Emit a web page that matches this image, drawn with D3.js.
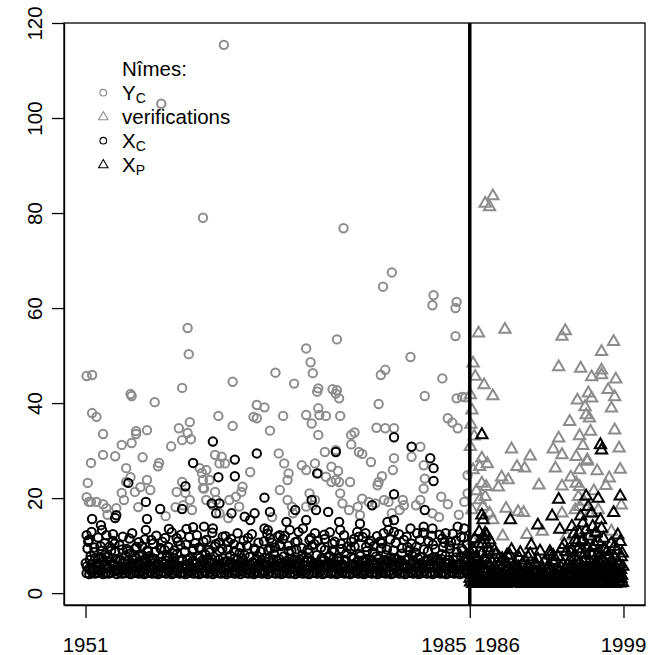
<!DOCTYPE html>
<html><head><meta charset="utf-8">
<script src="https://cdn.jsdelivr.net/npm/d3@7"></script>
<style>body{margin:0;background:#fff}svg{display:block}text{font-family:"Liberation Sans",Arial,Helvetica,sans-serif}</style>
</head><body><svg id="c" width="660" height="655"></svg>
<script>
// ---------- data ----------
const yTicks = [0, 20, 40, 60, 80, 100, 120];
const xTickAt = [1951, 1986, 1986, 2000];
const xTickLabels = ["1951", "1985", "1986", "1999"];
const splitYear = 1986;
const legendTitle = "Nîmes:";
const legendNames = [["Y", "C"], ["verifications", ""], ["X", "C"], ["X", "P"]];

// Y_C (grey circles), 1951-1985: [year, value]
const ycData = [
[1963.6,115.4],[1957.9,103],[1961.7,79],[1974.5,76.8],[1978.9,67.5],[1978.1,64.5],[1982.7,62.7],[1982.6,60.6],[1984.8,61.3],[1984.7,60],[1984.7,54.1],
[1960.3,55.8],[1960.4,50.3],[1951.1,45.7],[1951.6,45.9],[1959.8,43.2],[1955.1,41.9],[1955.2,41.5],[1957.3,40.2],[1951.6,37.9],[1952.0,37.1],[1952.6,33.5],
[1960.5,36],[1959.5,34.7],[1960.3,33.7],[1960.6,32.4],[1955.6,34.1],[1955.6,33.5],[1956.6,34.3],[1955.2,31.6],[1954.3,31.2],[1958.8,30.9],[1959.8,32.2],
[1952.6,29.1],[1953.7,28.8],[1951.5,27.4],[1956.2,28.6],[1957.7,27.4],[1957.6,26.7],[1954.7,26.3],[1955.1,24.4],[1954.7,23.4],[1955.5,21.3],[1954.3,21.1],
[1956.6,23.8],[1956.9,21.7],[1956.0,22.3],[1951.2,23.2],[1951.1,20.2],[1951.3,19.2],[1951.5,19.2],[1952.0,19.2],[1952.6,18.7],[1952.9,17.9],[1954.5,19.6],
[1953.8,17.9],[1955.8,18.1],[1959.3,21.3],[1959.8,23.4],[1960.1,21.1],[1960.5,19.6],[1959.2,18.1],[1959.9,18.5],[1960.7,17.5],[1961.6,25.3],[1961.7,22.1],
[1971.1,51.5],[1973.9,53.4],[1971.5,48.6],[1971.7,46.3],[1968.3,46.4],[1970.0,44.1],[1964.4,44.5],[1972.2,43.1],[1972.1,42.4],[1973.5,42.9],[1973.8,42],
[1966.6,39.6],[1967.3,39.1],[1966.3,37.1],[1966.6,36.8],[1963.1,37.3],[1964.4,35.2],[1967.8,34.2],[1969.0,37.3],[1971.1,37.5],[1971.6,35.7],[1972.2,38.9],
[1972.3,37.5],[1972.9,37.3],[1972.2,33.3],[1972.8,29.7],[1973.8,30.1],[1968.6,29.4],[1969.1,27.3],[1969.5,25.2],[1969.4,23.8],[1968.7,21.7],[1970.7,26.9],
[1971.1,25.9],[1971.9,27.3],[1972.2,25.2],[1972.9,24.5],[1973.4,23.4],[1973.8,23.8],[1961.4,26.3],[1962.0,25.9],[1961.7,23.8],[1962.3,23.8],[1961.8,22],
[1962.8,21.3],[1962.9,19.6],[1962.8,29.1],[1963.4,28.7],[1963.2,27.3],[1963.7,27.3],[1966.0,25.5],[1965.3,22.4],[1965.2,21.3],[1964.7,20.3],[1964.1,19.6],
[1965.0,18.2],[1969.4,19.6],[1969.8,18.2],[1969.9,16.8],[1971.4,21],[1971.9,19.6],[1971.7,18.5],[1971.1,18.2],[1962.6,18.5],[1963.2,16.8],[1962.0,19.6],[1973.4,26.6],
[1980.6,49.7],[1977.9,45.9],[1978.3,47],[1983.5,45.2],[1981.9,41.5],[1984.8,41],[1985.3,41.3],[1985.6,41.2],[1977.7,39.8],[1973.9,42.7],[1974.1,41],
[1974.2,37.3],[1984.0,36.8],[1984.4,35.9],[1984.9,34.7],[1977.5,34.8],[1978.3,34.7],[1979.1,34.7],[1975.5,33.8],[1975.2,33.3],[1975.2,31.3],[1975.9,29.7],
[1976.2,29.3],[1981.5,30.8],[1977.0,27.6],[1979.1,28.4],[1979.0,25.9],[1980.7,28.7],[1981.8,26.9],[1981.9,24.1],[1981.8,22],[1974.0,25.7],[1974.1,23.4],
[1974.2,21],[1975.1,23.4],[1977.7,23.4],[1977.6,22.7],[1978.0,24.6],[1978.2,19.6],[1978.6,19.2],[1979.9,19.6],[1980.0,18.5],[1981.1,18.5],[1981.5,19.6],
[1983.4,20.3],[1984.0,18.7],[1985.5,19.2],[1985.8,21],[1985.8,24.8],[1974.4,18.9],[1975.0,17.5],[1975.8,18.2],[1976.2,19.9],[1976.8,19.2],[1977.4,18.9],
[1978.9,16.8],[1979.6,17.5],[1982.6,16.8],[1953.0,16.5],[1958.3,16.2],[1964.0,15.8],[1968.0,16.0],[1976.0,16.4],[1983.2,16.0],[1985.0,16.5]
];

// X_C (black circles), 1951-1985: [year, value]
const xcData = [
[1960.8,27.4],[1954.9,23.2],[1960.1,22.5],[1956.5,19.2],[1957.8,17.7],[1959.8,17.7],[1953.8,16.4],[1953.7,15.8],[1951.6,15.6],[1956.6,15.6],[1956.5,13.3],
[1952.4,14.3],[1952.5,13.3],[1952.9,12.2],[1951.1,12.2],[1951.3,11.2],[1958.6,13.5],[1960.2,13.5],[1960.8,13.9],
[1962.6,31.9],[1966.6,29.4],[1964.6,28.1],[1963.1,24.4],[1964.6,24.6],[1972.1,25.2],[1973.8,29.7],[1967.3,20.1],[1971.6,19.6],[1972.0,17.5],[1973.1,17.1],
[1970.1,17.5],[1962.5,18.9],[1963.2,18.9],[1962.9,16.8],[1964.3,16.8],[1965.5,16.1],[1966.0,15.4],[1966.4,16.8],[1967.8,17.1],[1967.3,13.6],[1967.6,13.3],
[1967.8,11.5],[1961.8,14],[1962.6,13.6],[1963.5,11.9],[1969.3,15],[1969.6,13.3],[1968.7,12.2],[1971.1,15.4],[1970.8,13.6],[1971.4,11.2],[1971.9,12.6],
[1979.1,32.8],[1980.7,30.8],[1982.4,28.4],[1982.7,26.3],[1982.7,23.6],[1979.1,20.8],[1977.1,18.5],[1981.9,17.5],[1974.1,15],[1974.2,13.3],[1978.5,15],
[1979.1,15.4],[1978.6,13.3],[1979.1,12.9],[1975.9,11.9],[1976.5,12.6],[1975.2,10.8],[1980.6,13.6],[1981.2,12.6],[1981.8,14],[1982.6,13.6],[1984.9,14],[1985.5,13.6],
[1953.5,11.0],[1955.0,11.5],[1957.0,11.2],[1958.0,10.8],[1959.3,11.6],[1961.0,10.5],[1962.0,11.2],[1964.0,10.8],[1965.8,11.6],[1968.0,10.6],[1969.0,11.4],
[1970.3,10.9],[1972.8,11.4],[1973.5,10.4],[1977.0,11.0],[1978.0,10.5],[1980.0,11.2],[1983.5,11.5],[1984.3,10.7],[1985.2,11.8],[1976.0,14.6],[1983.8,12.6],
[1951.25,10.8],[1951.55,12.9],[1951.8,9.6],[1952.15,11.7],[1952.45,8.9],[1952.75,10.5],[1953.2,9.8],[1953.5,12.4],[1953.7,8.8],
[1954.1,10.1],[1954.4,11.9],[1954.75,9.3],[1955.25,12.6],[1955.55,9.4],[1955.85,10.7],[1956.15,9.9],[1956.4,11.3],[1956.7,8.7],
[1957.15,10.4],[1957.45,12.1],[1957.9,9.2],[1958.25,11.6],[1958.55,9.7],[1958.85,12.8],[1959.1,9.0],[1959.4,10.9],[1959.7,12.3],
[1960.15,10.2],[1960.45,11.8],[1960.75,8.9],[1961.15,12.2],[1961.45,9.5],[1961.75,10.8],[1962.25,9.1],[1962.55,12.7],[1962.85,10.3],
[1963.15,10.6],[1963.45,9.3],[1963.75,12.0],[1964.25,11.4],[1964.55,8.8],[1964.85,12.6],[1965.1,9.7],[1965.4,11.1],[1965.7,10.0],
[1966.15,12.4],[1966.45,9.1],[1966.75,10.6],[1967.25,10.9],[1967.55,12.5],[1967.85,9.4],[1968.25,9.6],[1968.5,11.9],[1968.7,10.2],
[1969.15,12.1],[1969.45,10.0],[1969.75,8.9],[1970.1,10.7],[1970.4,12.9],[1970.7,9.5],[1971.25,9.2],[1971.55,11.6],[1971.85,10.3],
[1972.15,11.0],[1972.45,9.6],[1972.75,12.3],[1973.25,12.8],[1973.45,9.0],[1973.7,10.8],[1974.25,10.4],[1974.55,12.2],[1974.85,9.8],
[1975.15,9.3],[1975.45,11.4],[1975.75,12.9],[1976.25,11.8],[1976.55,9.7],[1976.85,10.5],[1977.25,9.9],[1977.55,12.0],[1977.85,10.9],
[1978.15,12.6],[1978.45,9.2],[1978.75,11.3],[1979.25,10.6],[1979.55,12.4],[1979.85,9.5],[1980.25,11.9],[1980.5,9.0],[1980.7,10.4],
[1981.15,9.8],[1981.45,11.2],[1981.75,12.7],[1982.25,10.9],[1982.55,12.1],[1982.85,9.3],[1983.25,12.3],[1983.55,9.7],[1983.7,10.6],
[1984.15,10.0],[1984.45,12.5],[1984.75,11.1],[1985.25,9.4],[1985.45,11.7],[1985.75,10.2],
[1951.02,6.3],[1951.18,9.4],[1951.31,5.1],[1951.47,7.8],[1951.62,4.8],[1951.79,8.6],[1951.93,6.0],
[1952.05,5.4],[1952.2,7.2],[1952.36,9.9],[1952.5,4.9],[1952.66,6.7],[1952.81,8.1],[1952.95,5.7],
[1953.03,7.6],[1953.17,5.2],[1953.33,8.9],[1953.48,6.1],[1953.64,10.4],[1953.8,4.7],[1953.92,7.1],
[1954.06,4.9],[1954.21,6.9],[1954.35,9.2],[1954.52,5.6],[1954.67,7.9],[1954.83,8.8],[1954.96,5.0],
[1955.04,8.3],[1955.19,5.7],[1955.34,7.0],[1955.5,4.6],[1955.65,9.7],[1955.81,6.4],[1955.94,7.7],
[1956.02,5.9],[1956.18,8.0],[1956.32,4.8],[1956.49,7.3],[1956.63,9.0],[1956.78,5.3],[1956.92,6.8],
[1957.07,7.4],[1957.22,5.0],[1957.37,8.7],[1957.51,6.2],[1957.68,4.7],[1957.82,9.5],[1957.97,6.6],
[1958.05,5.5],[1958.2,9.1],[1958.34,6.8],[1958.49,4.9],[1958.64,7.5],[1958.8,5.9],[1958.93,8.4],
[1959.03,6.5],[1959.18,4.8],[1959.33,8.2],[1959.47,5.6],[1959.62,10.1],[1959.78,7.0],[1959.95,5.2],
[1960.06,8.8],[1960.21,6.0],[1960.37,4.7],[1960.51,7.4],[1960.66,5.4],[1960.82,9.3],[1960.96,6.3],
[1961.04,5.0],[1961.2,7.7],[1961.35,9.6],[1961.5,5.8],[1961.65,6.9],[1961.8,4.6],[1961.94,8.1],
[1962.02,7.1],[1962.17,5.3],[1962.33,8.6],[1962.48,6.4],[1962.63,4.9],[1962.78,9.8],[1962.92,5.7],
[1963.06,6.0],[1963.21,8.9],[1963.36,5.1],[1963.52,7.3],[1963.67,6.6],[1963.83,4.8],[1963.97,9.2],
[1964.04,5.6],[1964.19,7.9],[1964.34,6.2],[1964.5,10.3],[1964.64,4.7],[1964.8,7.0],[1964.95,5.4],
[1965.03,8.4],[1965.18,5.0],[1965.33,6.8],[1965.48,8.0],[1965.63,5.7],[1965.79,4.9],[1965.93,7.6],
[1966.07,4.8],[1966.22,6.5],[1966.37,9.4],[1966.52,5.5],[1966.66,7.8],[1966.81,6.1],[1966.96,8.7],
[1967.05,6.9],[1967.19,4.7],[1967.35,7.5],[1967.5,5.9],[1967.65,9.0],[1967.8,5.2],[1967.94,6.4],
[1968.02,5.3],[1968.17,8.3],[1968.32,6.0],[1968.47,4.8],[1968.62,7.2],[1968.78,9.9],[1968.92,5.8],
[1969.06,7.7],[1969.21,5.5],[1969.36,4.9],[1969.51,8.8],[1969.66,6.3],[1969.82,5.1],[1969.96,7.0],
[1970.04,6.1],[1970.19,9.2],[1970.34,5.4],[1970.49,7.1],[1970.64,4.7],[1970.79,8.1],[1970.94,6.6],
[1971.03,4.9],[1971.18,6.8],[1971.33,8.5],[1971.48,5.6],[1971.63,10.0],[1971.78,6.2],[1971.92,5.0],
[1972.07,8.0],[1972.22,5.8],[1972.37,4.8],[1972.52,7.4],[1972.66,6.0],[1972.81,9.1],[1972.95,5.3],
[1973.05,5.6],[1973.2,7.9],[1973.35,6.4],[1973.5,4.6],[1973.65,8.7],[1973.8,5.5],[1973.94,7.3],
[1974.02,6.7],[1974.17,4.9],[1974.32,9.3],[1974.47,5.7],[1974.62,7.0],[1974.77,8.4],[1974.92,5.1],
[1975.06,5.2],[1975.21,7.6],[1975.36,6.1],[1975.51,9.8],[1975.66,4.8],[1975.81,6.9],[1975.96,8.2],
[1976.04,7.8],[1976.19,5.4],[1976.34,4.7],[1976.49,6.6],[1976.64,8.9],[1976.79,5.9],[1976.93,7.1],
[1977.03,5.0],[1977.18,8.6],[1977.33,6.3],[1977.48,7.7],[1977.63,5.3],[1977.78,4.9],[1977.93,9.5],
[1978.07,6.0],[1978.22,5.1],[1978.37,8.0],[1978.52,6.8],[1978.67,4.7],[1978.82,7.5],[1978.96,5.6],
[1979.05,9.0],[1979.2,5.7],[1979.35,7.2],[1979.5,4.9],[1979.65,6.5],[1979.8,8.3],[1979.94,5.2],
[1980.02,5.5],[1980.17,7.0],[1980.32,9.7],[1980.47,5.0],[1980.62,6.2],[1980.77,7.9],[1980.92,4.8],
[1981.06,8.5],[1981.21,6.1],[1981.36,4.7],[1981.51,7.6],[1981.66,5.4],[1981.81,9.2],[1981.95,6.8],
[1982.04,5.8],[1982.19,8.8],[1982.34,5.2],[1982.49,6.9],[1982.64,10.2],[1982.79,5.6],[1982.93,7.4],
[1983.03,7.1],[1983.18,4.8],[1983.33,6.4],[1983.48,8.2],[1983.63,5.5],[1983.78,7.8],[1983.93,5.0],
[1984.07,6.2],[1984.22,9.4],[1984.37,5.3],[1984.52,7.0],[1984.67,4.9],[1984.82,8.6],[1984.96,6.0],
[1985.05,5.4],[1985.2,7.7],[1985.35,9.0],[1985.5,5.9],[1985.65,6.7],[1985.8,4.8],[1985.94,8.0],
[1951.12,5.6],[1951.4,7.0],[1951.55,6.1],[1951.72,5.2],[1951.88,7.4],
[1952.12,6.3],[1952.28,5.0],[1952.44,7.6],[1952.72,5.9],[1952.9,6.8],
[1953.1,5.4],[1953.25,6.6],[1953.55,5.8],[1953.72,7.2],[1953.86,5.1],
[1954.14,7.1],[1954.3,5.3],[1954.45,6.4],[1954.6,5.0],[1954.9,6.9],
[1955.12,5.9],[1955.27,6.3],[1955.43,5.2],[1955.58,7.5],[1955.74,5.5],
[1956.1,6.8],[1956.25,5.6],[1956.41,6.2],[1956.56,5.1],[1956.85,7.8],
[1957.14,5.3],[1957.3,7.2],[1957.45,5.9],[1957.6,6.6],[1957.75,5.4],
[1958.12,6.1],[1958.27,5.2],[1958.42,7.7],[1958.57,5.7],[1958.72,6.4],
[1959.1,7.3],[1959.25,6.0],[1959.4,5.1],[1959.55,6.9],[1959.87,5.8],
[1960.13,5.2],[1960.29,7.0],[1960.44,6.2],[1960.58,5.5],[1960.74,6.7],
[1961.11,6.4],[1961.27,5.5],[1961.42,7.4],[1961.57,5.2],[1961.87,6.0],
[1962.09,5.7],[1962.25,6.9],[1962.4,5.3],[1962.55,7.1],[1962.7,6.2],
[1963.13,7.0],[1963.28,5.9],[1963.44,6.3],[1963.6,5.1],[1963.9,6.7],
[1964.11,5.3],[1964.26,6.5],[1964.42,5.8],[1964.57,7.3],[1964.72,5.6],
[1965.1,6.6],[1965.25,7.4],[1965.4,5.4],[1965.56,6.1],[1965.86,5.2],
[1966.14,5.9],[1966.3,5.2],[1966.45,6.8],[1966.59,7.1],[1966.74,5.5],
[1967.12,6.2],[1967.27,5.8],[1967.43,6.6],[1967.57,5.1],[1967.72,7.3],
[1968.09,7.1],[1968.24,5.5],[1968.4,6.9],[1968.55,5.8],[1968.85,6.4],
[1969.13,5.2],[1969.29,6.7],[1969.44,5.9],[1969.59,7.2],[1969.74,5.4],
[1970.11,6.9],[1970.26,5.6],[1970.42,6.3],[1970.57,5.1],[1970.87,7.4],
[1971.1,5.8],[1971.25,7.3],[1971.4,5.3],[1971.56,6.6],[1971.71,5.7],
[1972.14,6.4],[1972.3,5.2],[1972.44,6.9],[1972.59,5.5],[1972.74,7.0],
[1973.12,5.3],[1973.27,6.2],[1973.42,5.8],[1973.57,7.2],[1973.87,6.0],
[1974.09,7.4],[1974.24,5.7],[1974.4,6.1],[1974.55,5.2],[1974.7,6.8],
[1975.13,6.0],[1975.28,5.4],[1975.44,7.3],[1975.59,5.9],[1975.89,5.1],
[1976.11,5.5],[1976.26,6.9],[1976.42,5.8],[1976.57,7.1],[1976.72,5.2],
[1977.1,6.8],[1977.25,5.3],[1977.4,5.9],[1977.56,6.4],[1977.71,7.2],
[1978.14,5.7],[1978.29,7.0],[1978.45,5.4],[1978.6,6.2],[1978.89,6.5],
[1979.12,7.2],[1979.27,5.1],[1979.42,6.3],[1979.57,5.8],[1979.73,6.9],
[1980.09,6.1],[1980.24,5.5],[1980.4,7.1],[1980.55,5.3],[1980.85,6.7],
[1981.13,5.4],[1981.28,7.3],[1981.43,5.9],[1981.59,6.4],[1981.74,5.2],
[1982.11,6.7],[1982.27,5.4],[1982.42,6.1],[1982.57,7.4],[1982.72,5.8],
[1983.1,5.2],[1983.25,6.6],[1983.4,7.2],[1983.56,5.7],[1983.86,6.3],
[1984.14,7.0],[1984.3,5.6],[1984.45,6.2],[1984.6,5.3],[1984.75,7.5],
[1985.12,6.3],[1985.27,5.1],[1985.43,6.8],[1985.58,7.1],[1985.73,5.5],
[1951.1,4.2],[1951.35,4.0],[1951.6,4.4],[1951.85,4.1],[1952.1,4.3],[1952.35,4.5],[1952.6,4.0],[1952.85,4.2],
[1953.1,4.1],[1953.35,4.3],[1953.6,4.6],[1953.85,4.0],[1954.1,4.4],[1954.35,4.1],[1954.6,4.2],[1954.85,4.5],
[1955.1,4.0],[1955.35,4.2],[1955.6,4.3],[1955.85,4.1],[1956.1,4.5],[1956.35,4.0],[1956.6,4.2],[1956.85,4.4],
[1957.1,4.1],[1957.35,4.3],[1957.6,4.0],[1957.85,4.2],[1958.1,4.4],[1958.35,4.1],[1958.6,4.5],[1958.85,4.0],
[1959.1,4.2],[1959.35,4.4],[1959.6,4.1],[1959.85,4.3],[1960.1,4.0],[1960.35,4.2],[1960.6,4.5],[1960.85,4.1],
[1961.1,4.3],[1961.35,4.0],[1961.6,4.2],[1961.85,4.4],[1962.1,4.1],[1962.35,4.3],[1962.6,4.0],[1962.85,4.5],
[1963.1,4.2],[1963.35,4.1],[1963.6,4.4],[1963.85,4.0],[1964.1,4.3],[1964.35,4.2],[1964.6,4.1],[1964.85,4.4],
[1965.1,4.0],[1965.35,4.5],[1965.6,4.2],[1965.85,4.1],[1966.1,4.3],[1966.35,4.0],[1966.6,4.4],[1966.85,4.2],
[1967.1,4.1],[1967.35,4.3],[1967.6,4.0],[1967.85,4.5],[1968.1,4.2],[1968.35,4.1],[1968.6,4.3],[1968.85,4.0],
[1969.1,4.4],[1969.35,4.2],[1969.6,4.1],[1969.85,4.3],[1970.1,4.0],[1970.35,4.5],[1970.6,4.2],[1970.85,4.1],
[1971.1,4.3],[1971.35,4.0],[1971.6,4.2],[1971.85,4.4],[1972.1,4.1],[1972.35,4.3],[1972.6,4.0],[1972.85,4.2],
[1973.1,4.5],[1973.35,4.1],[1973.6,4.3],[1973.85,4.0],[1974.1,4.2],[1974.35,4.4],[1974.6,4.1],[1974.85,4.3],
[1975.1,4.0],[1975.35,4.2],[1975.6,4.5],[1975.85,4.1],[1976.1,4.3],[1976.35,4.0],[1976.6,4.2],[1976.85,4.4],
[1977.1,4.1],[1977.35,4.3],[1977.6,4.0],[1977.85,4.2],[1978.1,4.4],[1978.35,4.1],[1978.6,4.3],[1978.85,4.0],
[1979.1,4.2],[1979.35,4.5],[1979.6,4.1],[1979.85,4.3],[1980.1,4.0],[1980.35,4.2],[1980.6,4.4],[1980.85,4.1],
[1981.1,4.3],[1981.35,4.0],[1981.6,4.2],[1981.85,4.5],[1982.1,4.1],[1982.35,4.3],[1982.6,4.0],[1982.85,4.2],
[1983.1,4.4],[1983.35,4.1],[1983.6,4.3],[1983.85,4.0],[1984.1,4.2],[1984.35,4.4],[1984.6,4.1],[1984.85,4.3],
[1985.1,4.0],[1985.35,4.2],[1985.6,4.5],[1985.85,4.1]
];

// verifications (grey triangles), 1986-1999: [year, value]
const verifData = [
[1988.1,83.6],[1987.4,82],[1987.8,81.3],[1986.8,54.7],[1989.2,55.5],[1994.7,55.2],[1994.4,54],[1999.1,52.9],[1998.0,50.8],[1986.3,48.4],[1994.1,47.6],
[1996.1,47.3],[1998.0,46.9],[1997.1,45.5],[1998.0,45.9],[1987.3,43.8],[1988.1,41.5],[1986.05,41.7],[1986.2,38.5],[1995.8,40.6],[1996.8,42.1],[1997.1,41],
[1996.5,39.2],[1999.2,41.3],[1996.6,37.5],[1996.9,36.8],[1995.1,36.1],[1999.2,34.3],[1994.1,32.6],[1996.0,33.1],[1997.0,34],[1986.05,30.8],[1989.8,30.3],
[1991.5,28.8],[1993.6,30.3],[1994.4,29.1],[1995.7,28.7],[1996.7,28],[1999.6,30.5],[1987.1,28.4],[1986.9,26.6],[1986.3,25.9],[1990.3,26.6],[1991.0,26.3],
[1993.8,26.3],[1996.0,25.9],[1996.7,27.7],[1999.7,26],[1989.5,23.8],[1988.6,22.3],[1987.1,23.1],[1987.5,22.4],[1992.3,22.7],[1994.4,22.5],[1995.7,23.1],
[1996.0,22.4],[1987.4,20.3],[1986.9,19.6],[1987.2,18.2],[1987.8,16.8],[1988.1,15.4],[1989.3,17.8],[1990.4,17.1],[1990.9,16.9],[1994.4,16.8],[1995.6,17.5],
[1996.0,18.2],[1996.9,16.8],[1997.7,17.5],[1999.8,18.5],[1986.1,35.5],[1986.4,33],[1986.6,21.5],[1986.2,17.5],[1995.9,20.3],[1996.4,19.3],[1997.3,21.5],
[1998.4,22.6],[1998.7,24.2],[1995.2,24.4],[1996.3,31.0],[1997.6,25.7],[1998.9,38.9],[1999.3,45],[1998.6,42.8],[1986.5,45.6],[1987.6,27.2],[1988.9,24.4],
[1992.6,13.0],[1991.2,12.3],[1986.3,11.0],[1989.0,12.0],[1994.8,12.0],[1998.9,13.0]
];

// X_P (black triangles), 1986-1999: [year, value]
const xpData = [
[1987.1,33.3],[1997.9,31.2],[1998.0,30.1],[1994.1,19.7],[1996.6,20.4],[1997.7,19.9],[1999.7,20.4],[1987.1,16.4],[1987.2,15.4],[1989.7,15.4],[1992.2,14.3],
[1993.5,16.2],[1994.2,13.4],[1995.3,14],[1996.1,16.2],[1996.8,18.2],[1997.1,16.8],[1997.9,15.4],[1999.1,16.9],[1987.4,12.6],[1987.8,11.2],[1989.8,9.1],
[1991.6,10.1],[1993.3,8.7],[1994.4,9.4],[1995.6,11.2],[1996.0,12.6],[1996.6,13.3],[1997.5,12.6],[1997.7,10.8],[1998.3,9.1],[1999.7,10.8],[1999.8,7.6],
[1998.0,13.6],[1997.2,14],[1996.3,14.7],
[1986.15,8.2],[1986.45,11.4],[1986.65,7.0],[1986.85,12.9],[1987.15,10.3],[1987.35,7.5],[1987.55,12.2],[1987.75,8.6],[1988.25,9.0],[1988.7,7.4],
[1989.4,8.0],[1990.6,8.5],[1991.3,7.6],[1992.4,8.8],[1993.6,7.9],[1994.6,10.2],[1995.18,8.6],[1995.48,12.4],[1995.88,9.3],[1996.18,10.8],
[1996.48,8.3],[1996.88,12.0],[1997.18,9.6],[1997.48,12.8],[1997.88,8.1],[1998.18,11.5],[1998.48,8.7],[1998.88,10.4],[1999.18,9.8],[1999.48,12.2],[1999.88,8.4],
[1986.03,3.1],[1986.12,6.8],[1986.22,4.4],[1986.31,9.2],[1986.41,5.6],[1986.5,3.5],[1986.6,7.7],[1986.7,4.9],[1986.8,10.4],[1986.9,6.1],
[1987.0,3.8],[1987.1,8.3],[1987.2,5.2],[1987.3,11.8],[1987.4,4.1],[1987.5,7.0],[1987.6,3.3],[1987.7,9.5],[1987.8,5.8],[1987.9,4.6],
[1988.05,6.4],[1988.2,3.6],[1988.35,8.1],[1988.5,4.7],[1988.65,5.9],[1988.8,3.2],[1988.95,7.2],
[1989.05,4.3],[1989.2,6.6],[1989.35,3.4],[1989.5,5.1],[1989.65,7.9],[1989.8,3.9],[1989.95,5.6],
[1990.05,3.5],[1990.2,5.8],[1990.35,4.2],[1990.5,7.4],[1990.65,3.1],[1990.8,6.2],[1990.95,4.5],
[1991.05,6.9],[1991.2,3.7],[1991.35,5.0],[1991.5,8.2],[1991.65,4.0],[1991.8,3.3],[1991.95,6.0],
[1992.05,4.4],[1992.2,7.1],[1992.35,3.2],[1992.5,5.5],[1992.65,3.8],[1992.8,6.6],[1992.95,4.8],
[1993.05,3.4],[1993.2,5.9],[1993.35,8.0],[1993.5,4.1],[1993.65,6.4],[1993.8,3.6],[1993.95,5.2],
[1994.05,7.6],[1994.2,4.6],[1994.35,3.3],[1994.5,6.1],[1994.65,5.0],[1994.8,8.7],[1994.95,3.9],
[1995.03,4.2],[1995.13,6.9],[1995.23,3.5],[1995.33,9.0],[1995.43,5.4],[1995.53,7.6],[1995.63,3.2],[1995.73,10.6],[1995.83,4.8],[1995.93,6.3],
[1996.03,8.4],[1996.13,3.8],[1996.23,5.7],[1996.33,11.2],[1996.43,4.4],[1996.53,7.2],[1996.63,3.1],[1996.73,9.6],[1996.83,5.1],[1996.93,6.8],
[1997.03,4.0],[1997.13,7.9],[1997.23,5.6],[1997.33,3.4],[1997.43,10.0],[1997.53,6.2],[1997.63,4.7],[1997.73,8.5],[1997.83,3.6],[1997.93,5.9],
[1998.03,7.0],[1998.13,4.3],[1998.23,9.3],[1998.33,3.3],[1998.43,6.0],[1998.53,5.0],[1998.63,8.0],[1998.73,3.9],[1998.83,6.6],[1998.93,4.6],
[1999.03,5.3],[1999.13,3.5],[1999.23,7.4],[1999.33,4.4],[1999.43,9.0],[1999.53,3.1],[1999.63,6.1],[1999.73,4.9],[1999.83,3.7],[1999.93,5.6],
[1986.17,4.0],[1986.37,2.9],[1986.56,5.4],[1986.75,3.5],[1986.95,4.7],[1987.05,5.9],[1987.25,3.0],[1987.45,4.8],[1987.65,6.3],[1987.85,3.2],
[1988.12,3.9],[1988.28,5.3],[1988.43,2.8],[1988.58,4.4],[1988.88,5.0],[1989.12,3.0],[1989.28,4.6],[1989.43,6.1],[1989.58,2.9],[1989.88,4.1],
[1990.12,4.9],[1990.28,3.2],[1990.43,5.5],[1990.58,3.8],[1990.88,2.9],[1991.12,3.3],[1991.28,5.6],[1991.43,4.1],[1991.58,3.0],[1991.88,4.7],
[1992.12,5.8],[1992.28,3.6],[1992.43,4.5],[1992.58,2.9],[1992.88,3.4],[1993.12,4.2],[1993.28,3.0],[1993.43,5.1],[1993.58,6.8],[1993.88,3.5],
[1994.12,3.1],[1994.28,5.5],[1994.43,4.3],[1994.58,3.0],[1994.88,5.9],[1995.08,3.0],[1995.18,5.3],[1995.38,4.0],[1995.58,6.0],[1995.78,2.9],
[1996.08,5.0],[1996.18,3.1],[1996.38,6.4],[1996.58,4.1],[1996.78,3.3],[1997.08,3.2],[1997.18,5.1],[1997.38,4.4],[1997.58,3.0],[1997.78,6.6],
[1998.08,5.6],[1998.18,3.0],[1998.38,4.7],[1998.58,3.4],[1998.78,5.2],[1999.08,3.9],[1999.18,6.0],[1999.38,2.9],[1999.58,4.3],[1999.78,3.1],
[1986.08,2.3],[1986.28,2.0],[1986.48,2.6],[1986.68,2.2],[1986.88,2.4],[1987.08,2.1],[1987.28,2.5],[1987.48,2.0],[1987.68,2.3],[1987.88,2.6],
[1988.1,2.2],[1988.3,2.4],[1988.5,2.0],[1988.7,2.5],[1988.9,2.1],[1989.1,2.3],[1989.3,2.0],[1989.5,2.6],[1989.7,2.2],[1989.9,2.4],
[1990.1,2.1],[1990.3,2.5],[1990.5,2.2],[1990.7,2.0],[1990.9,2.4],[1991.1,2.3],[1991.3,2.1],[1991.5,2.6],[1991.7,2.0],[1991.9,2.2],
[1992.1,2.4],[1992.3,2.0],[1992.5,2.3],[1992.7,2.5],[1992.9,2.1],[1993.1,2.2],[1993.3,2.6],[1993.5,2.0],[1993.7,2.4],[1993.9,2.1],
[1994.1,2.3],[1994.3,2.0],[1994.5,2.5],[1994.7,2.2],[1994.9,2.4],[1995.1,2.0],[1995.3,2.3],[1995.5,2.6],[1995.7,2.1],[1995.9,2.2],
[1996.1,2.5],[1996.3,2.0],[1996.5,2.3],[1996.7,2.4],[1996.9,2.1],[1997.1,2.2],[1997.3,2.6],[1997.5,2.0],[1997.7,2.3],[1997.9,2.5],
[1998.1,2.1],[1998.3,2.4],[1998.5,2.0],[1998.7,2.2],[1998.9,2.6],[1999.1,2.3],[1999.3,2.0],[1999.5,2.4],[1999.7,2.1],[1999.9,2.2]
];

// ---------- drawing ----------
const GRAY = "#8c8c8c";
const FS = "20.5px";
const svg = d3.select("#c");
const x = d3.scaleLinear().domain([1949.04, 2001.96]).range([64, 645]);
const y = d3.scaleLinear().domain([-2.5, 120]).range([605, 23]);
const tri = d3.symbol().type(d3.symbolTriangle).size(55.6);
const triSmall = d3.symbol().type(d3.symbolTriangle).size(38);

const plot = svg.append("g");
plot.selectAll("circle.yc").data(ycData).join("circle").attr("class","yc")
  .attr("cx", d => x(d[0])).attr("cy", d => y(d[1])).attr("r", 4.2)
  .attr("fill", "none").attr("stroke", GRAY).attr("stroke-width", 2);
plot.selectAll("path.vf").data(verifData).join("path").attr("class","vf")
  .attr("d", tri).attr("transform", d => `translate(${x(d[0])},${y(d[1])})`)
  .attr("fill", "none").attr("stroke", GRAY).attr("stroke-width", 2);
plot.selectAll("circle.xc").data(xcData).join("circle").attr("class","xc")
  .attr("cx", d => x(d[0])).attr("cy", d => y(d[1])).attr("r", 4.2)
  .attr("fill", "none").attr("stroke", "#000").attr("stroke-width", 2);
plot.selectAll("path.xp").data(xpData).join("path").attr("class","xp")
  .attr("d", tri).attr("transform", d => `translate(${x(d[0])},${y(d[1])})`)
  .attr("fill", "none").attr("stroke", "#000").attr("stroke-width", 2);

// split line
svg.append("line").attr("x1", x(splitYear)).attr("x2", x(splitYear))
  .attr("y1", y.range()[1]).attr("y2", y.range()[0])
  .attr("stroke", "#000").attr("stroke-width", 3.5);

// frame
svg.append("rect").attr("x", x.range()[0]).attr("y", y.range()[1])
  .attr("width", x.range()[1] - x.range()[0]).attr("height", y.range()[0] - y.range()[1])
  .attr("fill", "none").attr("stroke", "#000").attr("stroke-width", 1.3);

// y axis
const gy = svg.append("g").attr("transform", `translate(${x.range()[0]},0)`)
  .call(d3.axisLeft(y).tickValues(yTicks).tickSize(12).tickSizeOuter(0));
gy.select(".domain").attr("stroke-width", 1.3);
gy.selectAll(".tick line").attr("stroke-width", 1.3);
gy.selectAll(".tick text").attr("x", null).attr("dy", null)
  .attr("transform", "translate(-22,0) rotate(-90)").attr("text-anchor", "middle")
  .style("font-size", FS).attr("fill", "#000")
  .style("font-family", '"Liberation Sans",Arial,sans-serif');

// x axis
const gx = svg.append("g").attr("transform", `translate(0,${y.range()[0]})`)
  .call(d3.axisBottom(x).tickValues([...new Set(xTickAt)]).tickSize(13).tickSizeOuter(0).tickFormat(""));
gx.select(".domain").attr("stroke-width", 1.3);
gx.selectAll(".tick line").attr("stroke-width", 1.3);
xTickLabels.forEach((lab, i) => {
  const at = xTickAt[i];
  const shared = xTickAt.filter(v => v === at).length > 1;
  const first = xTickAt.indexOf(at) === i;
  let anchor = "middle", off = 0;
  if (shared) { anchor = first ? "end" : "start"; off = first ? -3 : 4.5; }
  gx.append("text").attr("x", x(at) + off).attr("y", 47)
    .attr("text-anchor", anchor).style("font-size", FS).attr("fill", "#000").text(lab);
});

// legend
const lg = svg.append("g");
lg.append("text").attr("x", 122).attr("y", 76).style("font-size", FS).text(legendTitle);
legendNames.forEach((nm, i) => {
  const by = 100 + i * 24;
  const col = (i < 2) ? GRAY : "#000";
  if (i % 2 === 0) {
    lg.append("circle").attr("cx", 103.3).attr("cy", by - 7.3).attr("r", 3.3)
      .attr("fill", "none").attr("stroke", col).attr("stroke-width", 1.1);
  } else {
    lg.append("path").attr("d", triSmall).attr("transform", `translate(103.3,${by - 7})`)
      .attr("fill", "none").attr("stroke", col).attr("stroke-width", 1.1);
  }
  const t = lg.append("text").attr("x", 122).attr("y", by).style("font-size", FS);
  t.append("tspan").text(nm[0]);
  if (nm[1]) t.append("tspan").attr("dy", 3).style("font-size", "14px").text(nm[1]);
});
</script>
</body></html>
